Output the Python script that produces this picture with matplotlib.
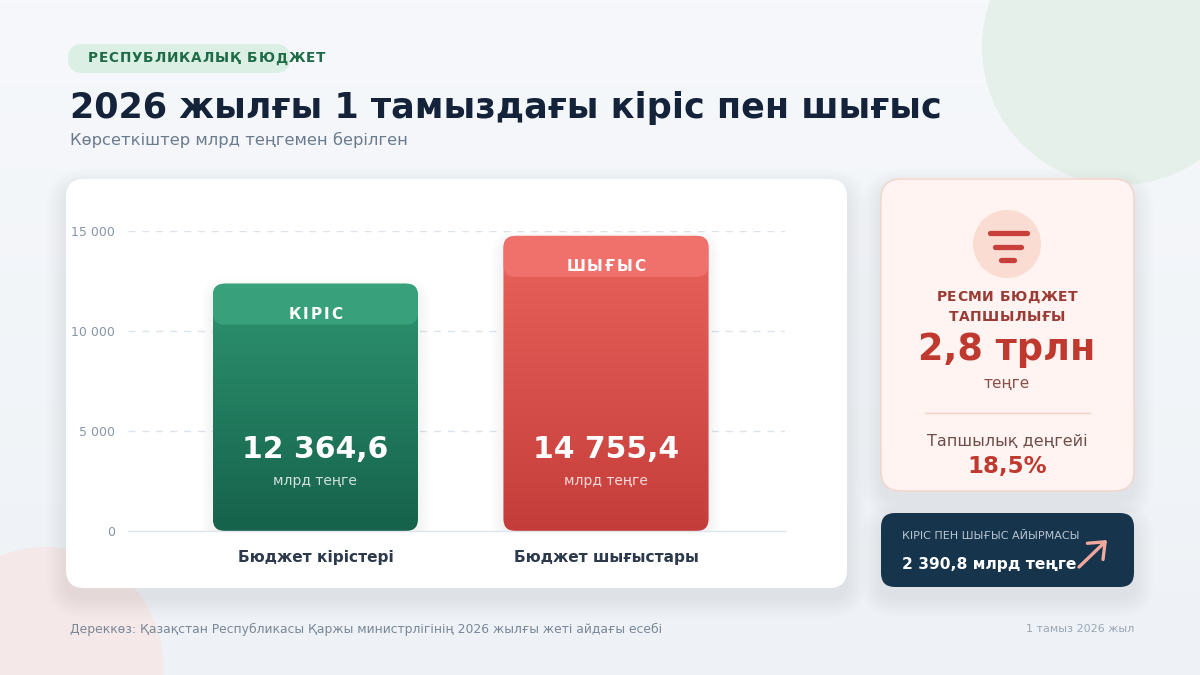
import matplotlib
matplotlib.use('Agg')
import matplotlib.pyplot as plt
import matplotlib.transforms as mtransforms
import numpy as np
from matplotlib.patches import FancyBboxPatch, Circle
from matplotlib.colors import LinearSegmentedColormap

plt.rcParams['font.family'] = ['DejaVu Sans']

# data
categories = ['Бюджет кірістері', 'Бюджет шығыстары']
bar_tags = ['КІРІС', 'ШЫҒЫС']
values = [12364.6, 14755.4]
value_labels = ['12 364,6', '14 755,4']
y_ticks = [0, 5000, 10000, 15000]
y_tick_labels = ['0', '5 000', '10 000', '15 000']
deficit_label = '2,8 трлн'
deficit_rate = '18,5%'
gap_label = '2 390,8 млрд теңге'

bar_top_colors = ['#2e9572', '#ea645d']
bar_bottom_colors = ['#16624a', '#c53d3a']
band_colors = ['#38a17c', '#f0716b']

W, H = 1200, 675
fig = plt.figure(figsize=(12, 6.75), dpi=100)

# page background in pixel coordinates
bg = fig.add_axes([0, 0, 1, 1])
bg.set_xlim(0, W)
bg.set_ylim(H, 0)
bg.axis('off')

page_grad = np.linspace(0, 1, H).reshape(-1, 1)
bg.imshow(page_grad, extent=(0, W, H, 0), aspect='auto', zorder=0, interpolation='nearest',
          cmap=LinearSegmentedColormap.from_list('page', ['#f6f8fb', '#eef2f6']))
bg.add_patch(Circle((1120, 47), 138, fc='#e5f0ea', ec='none', zorder=0.5))
bg.add_patch(Circle((45, 665), 118, fc='#f4e8e8', ec='none', zorder=0.5))

grad = np.linspace(0, 1, 512).reshape(-1, 1)


def shadow(ax, x, y, w, h, r, spread=20, dy=10, layers=16, alpha=0.0042, aspect=1.0):
    for i in range(layers):
        s = spread * (i + 1) / layers
        sy = s * aspect
        ax.add_patch(FancyBboxPatch((x - s, y - sy + dy), w + 2 * s, h + 2 * sy,
                                    boxstyle=f'round,pad=0,rounding_size={r + s}',
                                    mutation_aspect=aspect,
                                    fc='#1e3a5f', ec='none', alpha=alpha, zorder=1))


def card(x, y, w, h, r, fc, ec='none', lw=0):
    shadow(bg, x, y, w, h, r)
    bg.add_patch(FancyBboxPatch((x, y), w, h, boxstyle=f'round,pad=0,rounding_size={r}',
                                fc=fc, ec=ec, lw=lw, zorder=2))


def spaced_text(ax, x, y, s, spacing, **kw):
    # text centred at (x, y) with extra letter spacing in pixels
    r = fig.canvas.get_renderer()

    def width(t):
        tt = ax.text(0, 0, t, **kw)
        wdt = tt.get_window_extent(r).width
        tt.remove()
        return wdt

    lefts = []
    for i, ch in enumerate(s):
        if ch == ' ':
            lefts.append(None)
            continue
        lefts.append(width(s[:i + 1]) - width(ch) + i * spacing)
    total = width(s) + (len(s) - 1) * spacing
    for ch, left in zip(s, lefts):
        if left is None:
            continue
        tr = mtransforms.offset_copy(ax.transData, fig=fig, x=left - total / 2, y=0, units='dots')
        ax.text(x, y, ch, transform=tr, ha='left', **kw)


# header
bg.add_patch(FancyBboxPatch((68, 44), 222, 29, boxstyle='round,pad=0,rounding_size=14.5',
                            fc='#dcefe4', ec='none', zorder=2))
spaced_text(bg, 206.5, 58.5, 'РЕСПУБЛИКАЛЫҚ БЮДЖЕТ', 0.9, fontsize=9.8, fontweight='bold',
            color='#1e6b47', va='center', zorder=3)
bg.text(70, 118, '2026 жылғы 1 тамыздағы кіріс пен шығыс', fontsize=25.2, fontweight='bold',
        color='#14233a', va='baseline', ha='left', zorder=3)
bg.text(70, 140, 'Көрсеткіштер млрд теңгемен берілген', fontsize=11.75, color='#6b7b8e',
        va='center', ha='left', zorder=3)

# main card
card(66, 179, 781, 409, 18, 'white')

# right cards
card(881, 179, 253, 312, 20, '#fff4f1', ec='#f4d3ca', lw=1)
bg.add_patch(Circle((1007, 244), 34, fc='#fbdcd3', ec='none', zorder=3))
for y0, xa, xb in [(233, 989.5, 1026.5), (247, 994.5, 1020.5), (260, 1001, 1013.5)]:
    bg.plot([xa, xb], [y0, y0], lw=3.8, color='#c8403a', solid_capstyle='round', zorder=4)
spaced_text(bg, 1007, 297, 'РЕСМИ БЮДЖЕТ', 0.5, fontsize=10, fontweight='bold',
            color='#9b3b35', va='center', zorder=4)
spaced_text(bg, 1007, 317, 'ТАПШЫЛЫҒЫ', 0.5, fontsize=10, fontweight='bold',
            color='#9b3b35', va='center', zorder=4)
bg.text(1007, 349, deficit_label, fontsize=26.4, fontweight='bold', color='#c0392f',
        ha='center', va='center', zorder=4)
bg.text(1007, 383, 'теңге', fontsize=11, color='#8b4d48', ha='center', va='center', zorder=4)
bg.plot([925, 1090], [413, 413], lw=1, color='#efcfc6', zorder=4)
bg.text(1007, 441, 'Тапшылық деңгейі', fontsize=11.5, color='#6e4c49', ha='center',
        va='center', zorder=4)
bg.text(1007, 467, deficit_rate, fontsize=16.5, fontweight='bold', color='#c0392f',
        ha='center', va='center', zorder=4)

card(881, 513, 253, 74, 14, '#16344b')
bg.text(902, 536, 'КІРІС ПЕН ШЫҒЫС АЙЫРМАСЫ', fontsize=8, color='#b9c6d3', ha='left',
        va='center', zorder=4)
bg.text(902, 564, gap_label, fontsize=11.2, fontweight='bold', color='white', ha='left',
        va='center', zorder=4)
bg.annotate('', xy=(1107, 540), xytext=(1079, 567), zorder=5,
            arrowprops=dict(arrowstyle='->,head_length=0.55,head_width=0.45', lw=2.4,
                            color='#f0a99c', mutation_scale=18, capstyle='round',
                            shrinkA=0, shrinkB=0))

# footer
bg.text(70, 629, 'Дереккөз: Қазақстан Республикасы Қаржы министрлігінің 2026 жылғы жеті айдағы есебі',
        fontsize=8.9, color='#7a8797', ha='left', va='center', zorder=3)
bg.text(1134, 629, '1 тамыз 2026 жыл', fontsize=8, color='#9aa6b4', ha='right', va='center',
        zorder=3)

# chart area
ax_l, ax_r, ax_t, ax_b = 128, 785, 231, 531
ax = fig.add_axes([ax_l / W, (H - ax_b) / H, (ax_r - ax_l) / W, (ax_b - ax_t) / H])
ax.patch.set_alpha(0)
xlim = (-0.645, 1.616)
ylim = (0, 15000)
ax.set_xlim(*xlim)
ax.set_ylim(*ylim)
for s in ['top', 'right', 'left']:
    ax.spines[s].set_visible(False)
ax.spines['bottom'].set_color('#dfe5ec')
ax.spines['bottom'].set_linewidth(1)
ax.set_yticks(y_ticks, y_tick_labels)
ax.tick_params(axis='y', length=0, pad=9.5, labelsize=9, labelcolor='#8795a8')
ax.tick_params(axis='x', length=0, pad=13.5)
for yv in y_ticks[1:]:
    ax.axhline(yv, color='#dde3ea', lw=1, ls=(0, (5, 5)), zorder=0)

dx_px = (xlim[1] - xlim[0]) / (ax_r - ax_l)
dy_px = (ylim[1] - ylim[0]) / (ax_b - ax_t)
aspect = dy_px / dx_px
rad = 12 * dx_px

bars = ax.bar(range(len(values)), values, width=0.706, color='none', zorder=1)
for i, b in enumerate(bars):
    x0, w, h = b.get_x(), b.get_width(), b.get_height()
    # soft shadow
    shadow(ax, x0, 0, w, h, rad, spread=12 * dx_px, dy=-6 * dy_px, layers=12, alpha=0.0045,
           aspect=aspect)
    box = FancyBboxPatch((x0, 0), w, h, boxstyle=f'round,pad=0,rounding_size={rad}',
                         mutation_aspect=aspect, fc='none', ec='none', zorder=2)
    ax.add_patch(box)
    cmap = LinearSegmentedColormap.from_list(f'bar{i}', [bar_top_colors[i], bar_bottom_colors[i]])
    im = ax.imshow(grad, extent=(x0, x0 + w, 0, h), origin='upper', aspect='auto',
                   cmap=cmap, interpolation='bilinear', zorder=2)
    im.set_clip_path(box)
    band = FancyBboxPatch((x0, h - 41 * dy_px), w, 41 * dy_px + rad * aspect,
                          boxstyle=f'round,pad=0,rounding_size={rad}', mutation_aspect=aspect,
                          fc=band_colors[i], ec='none', zorder=2.5)
    ax.add_patch(band)
    band.set_clip_path(box)
    cx = x0 + w / 2
    spaced_text(ax, cx, h - 31 * dy_px, bar_tags[i], 2, fontsize=11, fontweight='bold',
                color='white', va='center', zorder=4)
    ax.text(cx, 82 * dy_px, value_labels[i], fontsize=21.5, fontweight='bold', color='white',
            ha='center', va='center', zorder=4)
    ax.text(cx, 50 * dy_px, 'млрд теңге', fontsize=10, color='white', alpha=0.8,
            ha='center', va='center', zorder=4)

ax.set_xlim(*xlim)
ax.set_ylim(*ylim)
ax.set_xticks(range(len(categories)), categories, fontsize=11.1, fontweight='bold', color='#2d3a4d')

fig.savefig('out.png', dpi=100)
